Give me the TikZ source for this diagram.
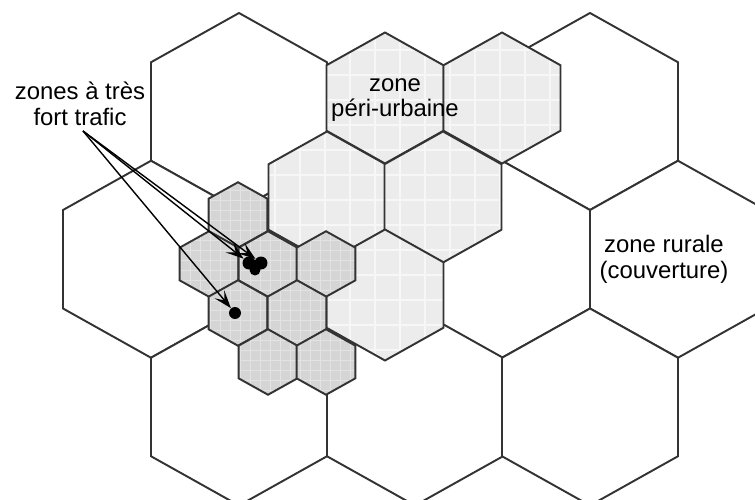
\documentclass[tikz,border=0pt]{standalone}
\usepackage{fontspec}
\setmainfont{Liberation Sans}
\usetikzlibrary{arrows.meta}
\tikzset{
  bigcell/.style   = {draw=black!80,line width=1.1pt,fill=white},
  midcell/.style   = {draw=black!80,line width=1.1pt,fill=gray!15,
    path picture={\draw[gray!6,line width=0.7pt,step=0.5cm]
      (path picture bounding box.south west) grid (path picture bounding box.north east);}},
  smallcell/.style = {draw=black!80,line width=1.1pt,fill=gray!33,
    path picture={\draw[gray!22,line width=0.4pt,step=0.2cm]
      (path picture bounding box.south west) grid (path picture bounding box.north east);}},
  hotarr/.style    = {-{Stealth[length=3.6mm,width=2.5mm,inset=1.6mm]},line width=0.8pt},
  hotdot/.style    = {circle,fill=black,inner sep=0pt,minimum size=0.26cm},
  zonetext/.style  = {align=center,font=\fontsize{13.6}{14.7}\selectfont}
}
% pointy-top cell: style, centre x, centre y, half width, radius
\newcommand{\hexcell}[5]{%
  \path[#1] (#2,#3) ++(0,-#5) -- ++(#4,#5/2) -- ++(0,#5) -- ++(-#4,#5/2)
    -- ++(-#4,-#5/2) -- ++(0,-#5) -- cycle;
}
\begin{document}
\begin{tikzpicture}[x=0.02cm,y=-0.02cm]
  \useasboundingbox (0,0) rectangle (755,500);
  \clip (0,0) rectangle (755,500);
  % rural cover
  \foreach \cx/\cy in {239/111.5,590/111.5,151/259.25,327/259.25,502/259.25,
                       678/259.25,239/407,415/407,590/407}
    {\hexcell{bigcell}{\cx}{\cy}{88}{98.5}}
  % peri-urban cells
  \foreach \cx/\cy in {385/98,502/98,327/197,443/197,385/295}
    {\hexcell{midcell}{\cx}{\cy}{58.5}{65.5}}
  % micro cells
  \foreach \cx/\cy in {238/215,209/264,268/264,326/264,238/313,297/313,268/362,326/362}
    {\hexcell{smallcell}{\cx}{\cy}{29.3}{32.75}}

  \node[hotdot] (hl) at (249,263) {};
  \node[hotdot] (hr) at (261,263) {};
  \node[hotdot,minimum size=0.22cm] (hb) at (255,270) {};
  \node[hotdot,minimum size=0.24cm] (hs) at (235,313) {};

  \node[zonetext] (hot)   at (80,104)  {zones à très\\fort trafic};
  \node[zonetext] (peri)  at (395,100) {zone\\péri-urbaine};
  \node[zonetext] (rural) at (664,259) {zone rurale\\(couverture)};

  \coordinate (src) at (83,131);
  \draw[hotarr] (src) -- (hl);
  \draw[hotarr] (src) -- (hr);
  \draw[hotarr] (src) -- (hs);
\end{tikzpicture}
\end{document}
